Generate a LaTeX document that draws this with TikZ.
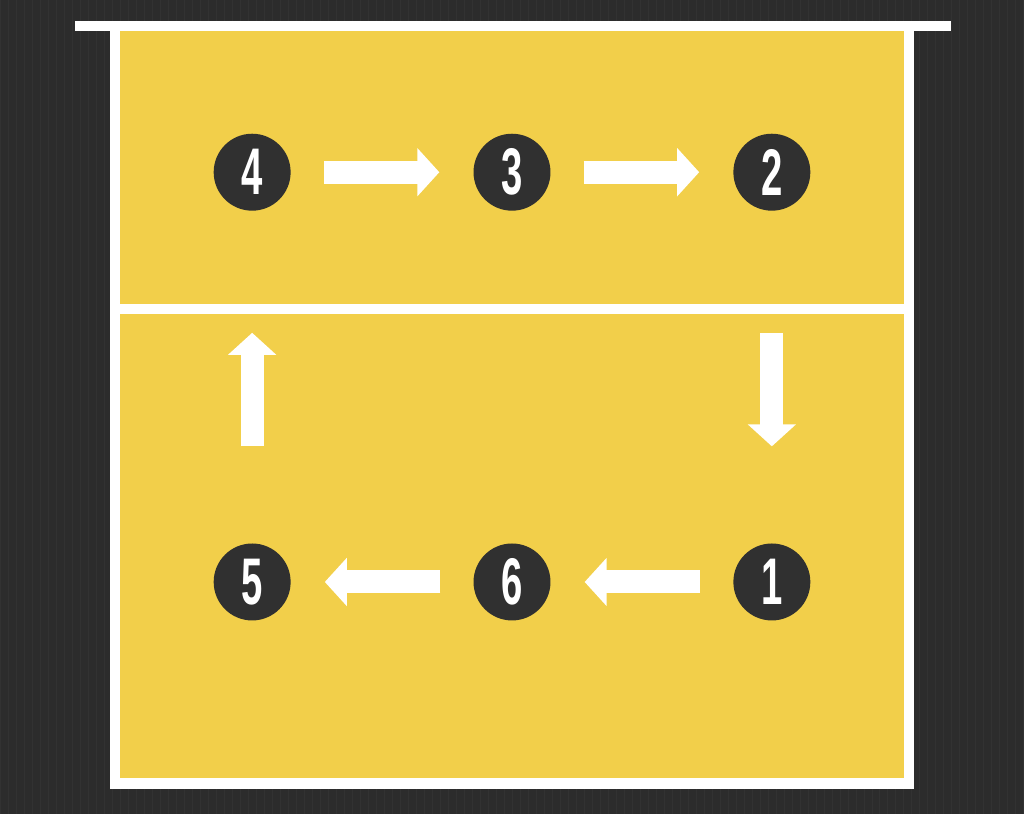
\documentclass[tikz,border=0pt]{standalone}
\usepackage{fontspec}
\setmainfont{Liberation Sans}
\usepackage{graphicx}
\usetikzlibrary{arrows.meta}
\definecolor{bgdark}{HTML}{2C2C2C}
\definecolor{gridgray}{HTML}{323232}
\definecolor{courtyellow}{HTML}{F2CF4A}
\definecolor{chipdark}{HTML}{303030}
\tikzset{
  player/.style={circle, fill=chipdark, minimum size=77pt, inner sep=0pt, text=white,
    font=\fontsize{66}{66}\selectfont\bfseries},
  blockarrow/.style={white, line width=23pt, -{Triangle[width=47pt, length=22pt]}}
}
\newcommand{\num}[1]{\scalebox{0.58}[1]{#1}}
\begin{document}
\begin{tikzpicture}[x=1pt, y=-1pt]
\fill[bgdark] (0,0) rectangle (1024,814);
\draw[gridgray, line width=0.6pt, step=8] (0,0) grid (1024,814);
\useasboundingbox (0,0) rectangle (1024,814);
% court
\fill[white] (75,21) rectangle (951,31);
\fill[white] (110,31) rectangle (914,789);
\fill[courtyellow] (120,31) rectangle (904,778);
\fill[white] (120,304) rectangle (904,314);
% players
\node[player] (p4) at (252,172) {\num{4}};
\node[player] (p3) at (512,172) {\num{3}};
\node[player] (p2) at (772,172) {\num{2}};
\node[player] (p5) at (252,582) {\num{5}};
\node[player] (p6) at (512,582) {\num{6}};
\node[player] (p1) at (772,582) {\num{1}};
% rotation
\draw[blockarrow, shorten <=33pt, shorten >=34pt] (p4) -- (p3);
\draw[blockarrow, shorten <=33pt, shorten >=34pt] (p3) -- (p2);
\draw[blockarrow, shorten <=122pt, shorten >=97pt] (p2) -- (p1);
\draw[blockarrow, shorten <=33pt, shorten >=34pt] (p1) -- (p6);
\draw[blockarrow, shorten <=33pt, shorten >=34pt] (p6) -- (p5);
\draw[blockarrow, shorten <=97pt, shorten >=122pt] (p5) -- (p4);
\end{tikzpicture}
\end{document}
